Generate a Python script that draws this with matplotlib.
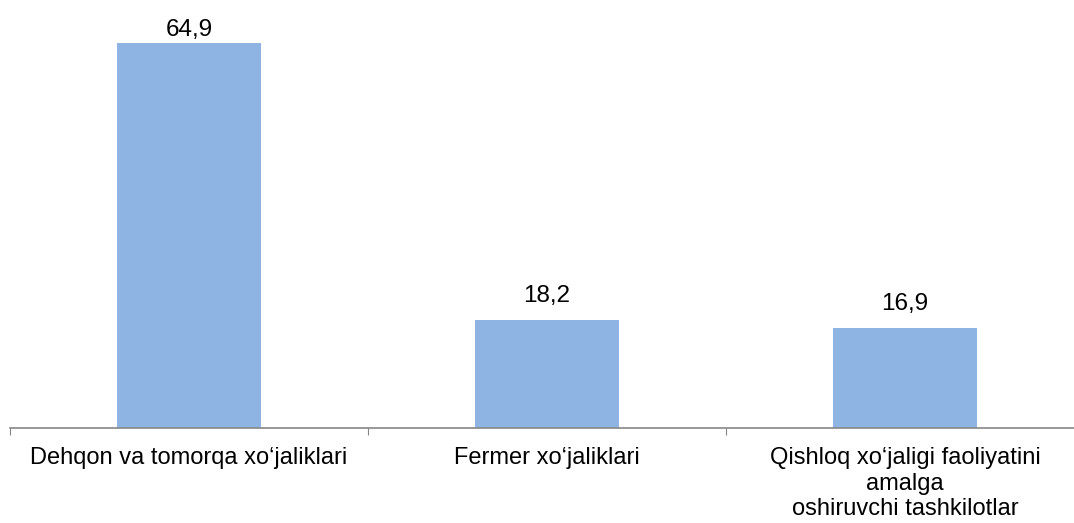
import matplotlib
matplotlib.use("Agg")
import matplotlib.pyplot as plt

categories = ["Dehqon va tomorqa xo‘jaliklari",
              "Fermer xo‘jaliklari",
              "Qishloq xo‘jaligi faoliyatini\namalga\noshiruvchi tashkilotlar"]
values = [64.9, 18.2, 16.9]

plt.rcParams['font.family'] = ['Liberation Sans', 'DejaVu Sans']

fig = plt.figure(figsize=(10.74, 5.23), dpi=100)
ax = fig.add_axes([10 / 1074, 95 / 523, 1.0, 415 / 523])

x = list(range(len(categories)))
ax.bar(x, values, width=0.4, color="#8EB4E3")

ax.set_xlim(-0.5, 2.5)
ax.set_ylim(0, 70)

# labels sit above the bars, but the tallest one gets pushed down to stay in the plot area
for xi, v in zip(x, values):
    ax.text(xi, min(v + 3.0, 66.1), f"{v:.1f}".replace(".", ","),
            ha="center", va="baseline", fontsize=17.5)

ax.set_xticks([-0.5, 0.5, 1.5, 2.5])
ax.set_xticklabels([])
ax.set_xticks(x, minor=True)
ax.set_xticklabels(categories, minor=True, fontsize=17, linespacing=1.2)
ax.tick_params(axis="x", which="major", length=5, color="#868686", direction="out")
ax.tick_params(axis="x", which="minor", length=0, pad=14)
ax.set_yticks([])

for s in ["top", "right", "left"]:
    ax.spines[s].set_visible(False)
ax.spines["bottom"].set_color("#868686")
ax.spines["bottom"].set_linewidth(1.2)

fig.savefig("out.png", dpi=100)
